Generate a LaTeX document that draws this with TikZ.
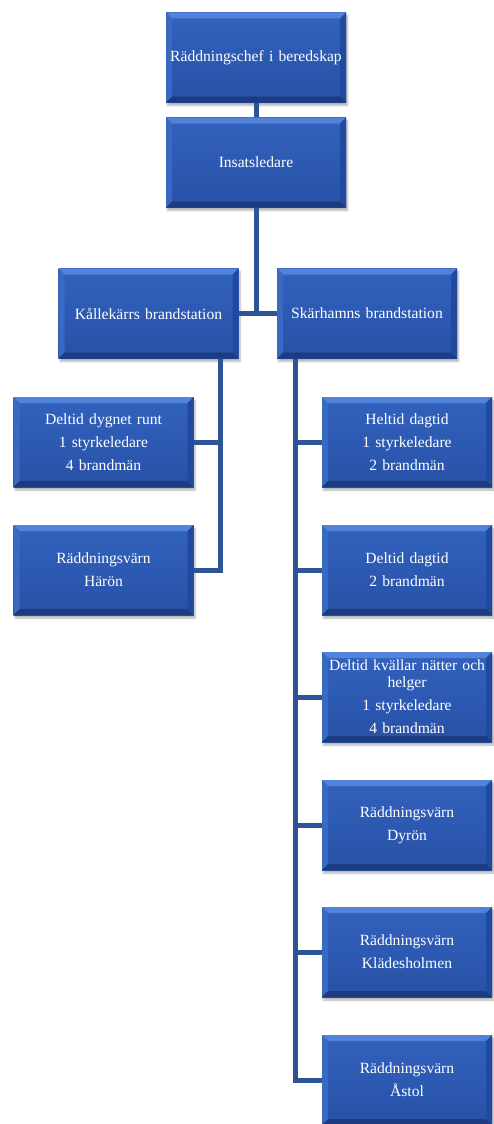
\documentclass[tikz,border=0pt]{standalone}
\usepackage{fontspec}
\setmainfont{Liberation Serif}
\usetikzlibrary{shadows.blur}
\hyphenpenalty=10000

\definecolor{boxblue}{HTML}{2751A6}
\definecolor{boxhigh}{HTML}{3262BE}
\definecolor{boxtop}{HTML}{5283DA}
\definecolor{boxleft}{HTML}{3A69C2}
\definecolor{boxright}{HTML}{2149A0}
\definecolor{boxbottom}{HTML}{1C3B80}
\definecolor{linkblue}{HTML}{2F5496}

\begin{document}
\begin{tikzpicture}[x=1pt, y=1pt,
	unit/.style={rectangle, top color=boxhigh, bottom color=boxblue, text=white,
		minimum height=90pt, inner sep=0pt, align=center,
		font=\fontsize{15.6}{17}\selectfont,
		blur shadow={shadow xshift=1.5pt, shadow yshift=-3pt, shadow opacity=30, shadow blur steps=6},
		path picture={
			\fill[boxtop] (path picture bounding box.north west) -- (path picture bounding box.north east)
				-- ([shift={(-6pt,-6pt)}]path picture bounding box.north east)
				-- ([shift={(6pt,-6pt)}]path picture bounding box.north west) -- cycle;
			\fill[boxleft] (path picture bounding box.north west) -- (path picture bounding box.south west)
				-- ([shift={(6pt,6pt)}]path picture bounding box.south west)
				-- ([shift={(6pt,-6pt)}]path picture bounding box.north west) -- cycle;
			\fill[boxright] (path picture bounding box.north east) -- (path picture bounding box.south east)
				-- ([shift={(-6pt,6pt)}]path picture bounding box.south east)
				-- ([shift={(-6pt,-6pt)}]path picture bounding box.north east) -- cycle;
			\fill[boxbottom] (path picture bounding box.south west) -- (path picture bounding box.south east)
				-- ([shift={(-6pt,6pt)}]path picture bounding box.south east)
				-- ([shift={(6pt,6pt)}]path picture bounding box.south west) -- cycle;
		}},
	wide/.style={unit, minimum width=180pt, text width=176pt},
	narrow/.style={unit, minimum width=170pt, text width=170pt},
	link/.style={draw=linkblue, line width=5pt}]

	\useasboundingbox (0,0) rectangle (494,-1124);

	% ledning
	\node[wide] (chief) at (256,-57.5) {Räddningschef i beredskap};
	\node[wide] (ins) at (256,-162.5) {Insatsledare};

	% stationer
	\node[wide] (kall) at (148.5,-313.5) {Kållekärrs brandstation};
	\node[wide] (skar) at (367,-313.5) {Skärhamns brandstation};

	% Kållekärr
	\node[wide] (dygn) at (103.5,-442) {Deltid dygnet runt\\[6pt]1 styrkeledare\\[6pt]4 brandmän};
	\node[wide] (haron) at (103.5,-570) {Räddningsvärn\\[6pt]Härön};

	% Skärhamn
	\node[narrow] (heltid) at (407,-442) {Heltid dagtid\\[6pt]1 styrkeledare\\[6pt]2 brandmän};
	\node[narrow] (dagtid) at (407,-570) {Deltid dagtid\\[6pt]2 brandmän};
	\node[narrow] (kvall) at (407,-697) {Deltid kvällar nätter och\\helger\\[6pt]1 styrkeledare\\[6pt]4 brandmän};
	\node[narrow] (dyron) at (407,-825) {Räddningsvärn\\[6pt]Dyrön};
	\node[narrow] (klades) at (407,-952) {Räddningsvärn\\[6pt]Klädesholmen};
	\node[narrow] (astol) at (407,-1080) {Räddningsvärn\\[6pt]Åstol};

	\coordinate (fork) at (256,-313.5);
	\coordinate (ktrunk) at (220,-359);
	\coordinate (strunk) at (295,-359);

	\draw[link] (chief) -- (ins);
	\draw[link] (ins) -- (fork);
	\draw[link] (kall) -- (skar);

	\draw[link] (kall.south -| ktrunk) |- (haron.east);
	\draw[link] (dygn.east) -- (dygn.east -| ktrunk);

	\draw[link] (skar.south -| strunk) |- (astol.west);
	\foreach \n in {heltid, dagtid, kvall, dyron, klades}
		\draw[link] (\n.west) -- (\n.west -| strunk);

\end{tikzpicture}
\end{document}
